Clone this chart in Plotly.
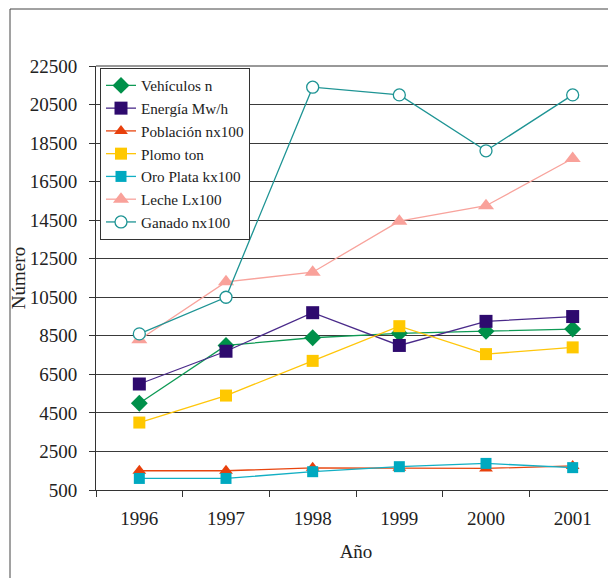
import plotly.graph_objects as go

years = ["1996", "1997", "1998", "1999", "2000", "2001"]
vehiculos = [5000, 8000, 8400, 8630, 8740, 8850]
energia = [6000, 7700, 9700, 8000, 9250, 9500]
poblacion = [1500, 1500, 1650, 1650, 1620, 1750]
plomo = [4000, 5400, 7200, 9000, 7550, 7900]
oro_plata = [1100, 1100, 1450, 1710, 1880, 1660]
leche = [8300, 11300, 11800, 14450, 15250, 17700]
ganado = [8600, 10500, 21400, 21000, 18100, 21000]

names = ["Vehículos n", "Energía Mw/h", "Población nx100", "Plomo ton",
         "Oro Plata kx100", "Leche Lx100", "Ganado nx100"]

series = [vehiculos, energia, poblacion, plomo, oro_plata, leche, ganado]
line_colors = ["#0E9A55", "#4A2A8A", "#E8450F", "#FFC60A", "#12AFC4", "#F8A39C", "#1E9494"]
marker_colors = ["#00904A", "#2E0A6E", "#E8400C", "#FFC800", "#00A9C0", "#F9A19A", "#FFFFFF"]
symbols = ["diamond", "square", "triangle-up", "square", "square", "triangle-up", "circle"]
sizes = [13, 13, 12, 12, 11, 14, 12]

FONT = "Liberation Serif"
TXT = "#222222"

fig = go.Figure()
for name, vals, lc, mc, sym, sz in zip(names, series, line_colors, marker_colors, symbols, sizes):
    fig.add_trace(go.Scatter(
        x=years, y=vals, name=name, mode="lines+markers",
        line=dict(color=lc, width=1.3),
        marker=dict(symbol=sym, size=sz, color=mc,
                    line=dict(color=lc if sym == "circle" else mc, width=1.3 if sym == "circle" else 0)),
    ))

OFF = 8  # page body margin
W, H = 616 - OFF, 578 - OFF
L = 96 - OFF
R = 0
T = 66 - OFF
B = H - (490 - OFF)
pw, ph = W - L - R, H - T - B

def px_x(p):
    return (p - OFF - L) / pw

def px_y(p):
    return (H - B - (p - OFF)) / ph

fig.update_layout(
    width=W, height=H,
    margin=dict(l=L, r=R, t=T, b=B),
    paper_bgcolor="white", plot_bgcolor="white",
    font=dict(family=FONT, size=19, color=TXT),
    showlegend=True,
    legend=dict(
        x=px_x(100), y=px_y(68), xanchor="left", yanchor="top",
        bgcolor="white", bordercolor="#333333", borderwidth=1,
        font=dict(family=FONT, size=15.2, color=TXT),
        tracegroupgap=0, itemwidth=30,
    ),
    xaxis=dict(
        type="category", showgrid=False, showline=True, linecolor="#333333", linewidth=1,
        ticks="outside", ticklen=6, tickcolor="#333333", tickson="boundaries",
        ticklabelstandoff=11,
        tickfont=dict(family=FONT, size=19, color=TXT),
        title=dict(text="Año", font=dict(family=FONT, size=19, color=TXT), standoff=16),
        range=[-0.5, 5.5], fixedrange=True,
    ),
    yaxis=dict(
        range=[500, 22500], dtick=2000, tick0=500,
        showgrid=True, gridcolor="#3a3a3a", gridwidth=1,
        showline=True, linecolor="#333333", linewidth=1,
        ticks="outside", ticklen=6, tickcolor="#333333",
        ticklabelstandoff=8,
        tickformat="d", separatethousands=False,
        tickfont=dict(family=FONT, size=19, color=TXT),
        title=dict(text="Número", font=dict(family=FONT, size=19, color=TXT), standoff=0),
        zeroline=False, fixedrange=True,
    ),
    shapes=[
        dict(type="rect", xref="paper", yref="paper",
             x0=px_x(10), x1=px_x(640), y0=px_y(600), y1=px_y(9),
             line=dict(color="#444444", width=1), fillcolor="rgba(0,0,0,0)", layer="below"),
        dict(type="line", xref="paper", yref="paper",
             x0=0, x1=1, y0=1, y1=1, line=dict(color="#333333", width=1)),
    ],
)

fig.write_html("out.html")
